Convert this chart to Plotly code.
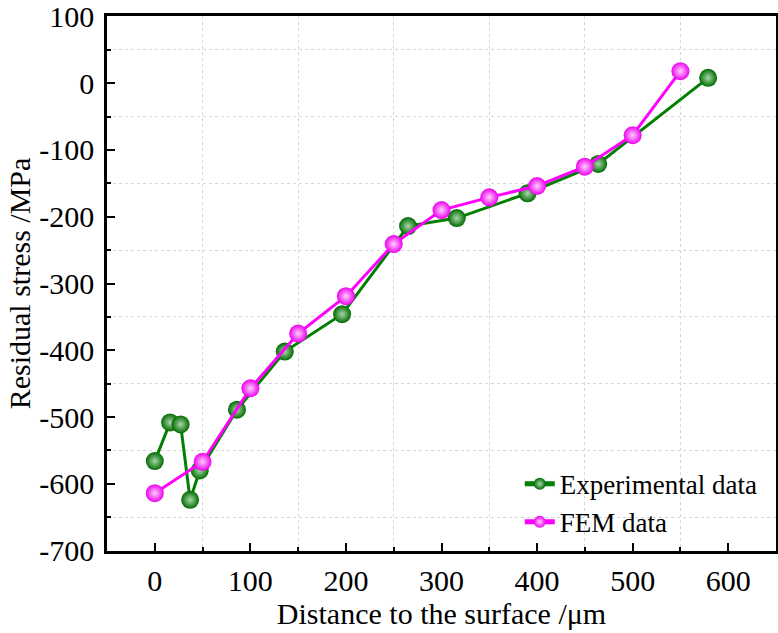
import plotly.graph_objects as go

exp_x = [0, 16, 27, 37, 47, 86, 136, 196, 265, 316, 390, 464, 579]
exp_y = [-566, -508, -511, -624, -580, -489, -402, -346, -214, -202, -165, -121, 8]
fem_x = [0, 50, 100, 150, 200, 250, 300, 350, 400, 450, 500, 550]
fem_y = [-614, -567, -457, -375, -319, -241, -190, -171, -154, -125, -78, 18]

x_ticks = [0, 100, 200, 300, 400, 500, 600]
y_ticks = [100, 0, -100, -200, -300, -400, -500, -600, -700]

FONT = "Liberation Serif, Times New Roman, serif"

fig = go.Figure()
fig.add_trace(go.Scatter(
    x=exp_x, y=exp_y, mode="lines+markers", name="Experimental data",
    line=dict(color="#008000", width=3),
    marker=dict(size=18, color="#006a00",
                gradient=dict(type="radial", color="#a8d8a8"),
                line=dict(width=0)),
))
fig.add_trace(go.Scatter(
    x=fem_x, y=fem_y, mode="lines+markers", name="FEM data",
    line=dict(color="#ff00ff", width=3),
    marker=dict(size=18, color="#ee00ee",
                gradient=dict(type="radial", color="#ffd0ff"),
                line=dict(width=0)),
))

axis_common = dict(
    showline=True, linecolor="black", linewidth=2.5, mirror=True,
    ticks="inside", ticklen=8, tickwidth=2, tickcolor="black",
    showgrid=False, zeroline=False,
    tickfont=dict(family=FONT, size=30, color="black"),
    title_font=dict(family=FONT, size=30, color="black"),
    ticklabeloverflow="allow", automargin=False,
)

fig.update_xaxes(
    range=[-50, 650], tickmode="array", tickvals=x_ticks,
    ticktext=[str(v) for v in x_ticks],
    title_text="Distance to the surface /μm", title_standoff=3,
    ticklabelstandoff=1,
    minor=dict(tickmode="array", tickvals=[-50, 50, 150, 250, 350, 450, 550, 650],
               ticks="inside", ticklen=4, tickwidth=2, tickcolor="black",
               showgrid=True, gridcolor="#d6d6d6", griddash="dot", gridwidth=1),
    **axis_common,
)
fig.update_yaxes(
    range=[-700.6, 100.6], tickmode="array",
    tickvals=y_ticks, ticktext=[str(v) for v in y_ticks],
    title_text="Residual stress /MPa", title_standoff=0,
    ticklabelstandoff=4,
    minor=dict(tickmode="array", tickvals=[50, -50, -150, -250, -350, -450, -550, -650],
               ticks="inside", ticklen=4, tickwidth=2, tickcolor="black",
               showgrid=True, gridcolor="#d6d6d6", griddash="dot", gridwidth=1),
    **axis_common,
)

fig.update_layout(
    width=778, height=633,
    margin=dict(l=107, r=2, t=16, b=82),
    paper_bgcolor="white", plot_bgcolor="white",
    font=dict(family=FONT, color="black"),
    showlegend=True,
    legend=dict(x=0.617, y=0.008, xanchor="left", yanchor="bottom",
                bgcolor="rgba(0,0,0,0)", font=dict(family=FONT, size=27, color="black"),
                itemsizing="constant", tracegroupgap=0),
)

fig.write_html("out.html")
